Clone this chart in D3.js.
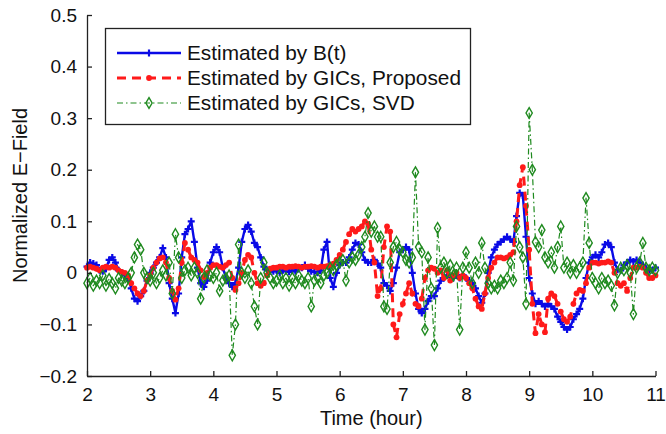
<!DOCTYPE html>
<html>
<head>
<meta charset="utf-8">
<script src="https://cdn.jsdelivr.net/npm/d3@7"></script>
<style>
  body { margin: 0; background: #fff; }
  text { font-family: "Liberation Sans", Arial, Helvetica, sans-serif; fill: #111; }
</style>
</head>
<body>
<div id="chart"></div>
<script>
// Values, one sample every 0.05 hour from 2 to 11
var timeStep = 0.05;
var timeHours = d3.range(0, 181).map(function(i) { return +(2 + i * timeStep).toFixed(2); });

// Estimated by B(t)
var bValues = [
  0.012, 0.02, 0.018, 0.015, 0.005, 0.003, 0.008, 0.025, 0.03, 0.02, 0.005, 0, -0.005, -0.01, -0.03, -0.05, -0.055, -0.045, -0.035, -0.015,
  0.0, 0.01, 0.02, 0.03, 0.048, 0.03, -0.02, -0.05, -0.078, -0.04, 0.03, 0.075, 0.085, 0.1, 0.06, 0.01, -0.02, -0.027, -0.015, 0.02,
  0.04, 0.05, 0.04, 0.01, -0.01, -0.02, -0.027, -0.02, 0.01, 0.06, 0.085, 0.093, 0.08, 0.058, 0.05, 0.03, 0.012, 0.005, 0.003, 0.003,
  0.005, 0.0, 0.005, 0.003, 0.002, 0.005, 0.003, 0.008, 0.01, 0.015, 0.008, 0.003, 0.002, 0.0, 0.005, 0.045, 0.06, -0.01, -0.027, 0.0,
  0.015, 0.02, 0.02, 0.03, 0.045, 0.058, 0.055, 0.04, 0.025, 0.02, 0.02, 0.025, 0.018, 0.01, -0.02, -0.025, -0.035, -0.02, 0.01, 0.04,
  0.045, 0.05, 0.045, 0.0, -0.04, -0.07, -0.078, -0.07, -0.055, -0.045, -0.045, -0.03, -0.015, -0.01, -0.005, -0.008, -0.01, -0.005, -0.01, -0.005,
  -0.01, -0.015, -0.02, -0.03, -0.045, -0.058, -0.04, 0.0, 0.03, 0.045, 0.055, 0.06, 0.065, 0.07, 0.065, 0.06, 0.11, 0.155, 0.15, 0.07,
  -0.01, -0.04, -0.06, -0.055, -0.06, -0.065, -0.06, -0.065, -0.07, -0.085, -0.095, -0.105, -0.11, -0.105, -0.09, -0.08, -0.07, -0.05, -0.01, 0.02,
  0.03, 0.035, 0.03, 0.04, 0.055, 0.058, 0.05, 0.02, 0.006, 0.005, 0.015, 0.02, 0.025, 0.022, 0.025, 0.02, 0.015, 0.008, 0.005, 0.005,
  0.01
];

// Estimated by GICs, Proposed
var proposedValues = [
  0.01, 0.012, 0.01, 0.008, 0.005, 0.01, 0.012, 0.01, 0.012, 0.01, 0.005, 0.002, 0.0, -0.005, -0.02, -0.03, -0.04, -0.045, -0.035, -0.015,
  -0.005, 0.01, 0.02, 0.028, 0.03, 0.02, -0.01, -0.035, -0.052, -0.03, 0.02, 0.058, 0.045, 0.03, 0.025, 0.02, 0.005, -0.008, 0.0, 0.01,
  0.015, 0.015, 0.012, 0.01, 0.015, 0.02, -0.01, -0.033, -0.02, 0.0, 0.025, 0.035, 0.03, 0.0, -0.02, -0.025, -0.02, -0.005, 0.008, 0.01,
  0.01, 0.012, 0.012, 0.01, 0.012, 0.012, 0.013, 0.012, 0.01, 0.012, 0.012, 0.013, 0.012, 0.01, 0.012, 0.012, 0.013, 0.015, 0.018, 0.025,
  0.035, 0.045, 0.06, 0.075, 0.085, 0.08, 0.085, 0.09, 0.1, 0.095, 0.045, 0.02, -0.045, -0.03, 0.05, 0.09, 0.08, -0.1, -0.125, -0.08,
  -0.06, -0.04, -0.02, -0.04, -0.06, -0.065, -0.05, -0.01, 0.005, 0.01, 0.008, 0.0, 0.005, -0.01, 0.005, -0.015, -0.005, 0.0, -0.01, -0.005,
  -0.01, -0.02, -0.03, -0.05, -0.065, -0.07, -0.04, -0.01, 0.01, 0.02, 0.03, 0.03, 0.028, 0.03, 0.035, 0.04, 0.1, 0.17, 0.205, 0.13,
  0.045, -0.06, -0.117, -0.08, -0.1, -0.115, -0.05, -0.04, -0.045, -0.06, -0.075, -0.09, -0.095, -0.085, -0.06, -0.04, -0.033, -0.035, -0.02, 0.01,
  0.02, 0.02, 0.018, 0.02, 0.02, 0.022, 0.02, 0.0, -0.02, -0.025, -0.02, -0.035, -0.01, 0.01, 0.01, 0.012, 0.01, 0.0, -0.01, -0.01,
  -0.005
];

// Estimated by GICs, SVD
var svdValues = [
  -0.02, -0.01, -0.025, -0.015, -0.02, -0.005, -0.025, -0.012, -0.02, -0.03, -0.01, -0.015, -0.02, -0.01, 0.0, 0.03, 0.055, 0.045, 0.0, -0.01,
  -0.015, 0.0, -0.02, -0.01, 0.005, -0.005, 0.02, -0.04, 0.075, 0.03, -0.01, 0.005, 0.01, -0.005, 0.01, 0.0, -0.05, -0.01, 0.005, -0.005,
  -0.01, 0.0, -0.035, -0.015, -0.01, -0.005, -0.16, -0.1, 0.055, 0.0, -0.01, 0.005, -0.02, -0.065, -0.1, -0.01, 0.02, 0.0, -0.01, -0.02,
  -0.015, -0.005, -0.02, -0.01, -0.025, -0.01, -0.02, -0.005, -0.015, -0.02, -0.01, -0.065, -0.015, -0.01, -0.02, -0.005, 0.0, 0.01, 0.005, 0.015,
  0.02, 0.025, -0.015, 0.02, 0.03, 0.025, 0.035, 0.05, 0.07, 0.116, 0.08, 0.09, 0.07, 0.07, -0.065, -0.07, 0.02, 0.05, 0.06, 0.045,
  0.04, 0.025, 0.02, 0.03, 0.195, 0.05, 0.04, -0.11, 0.03, -0.03, -0.14, 0.087, 0.01, 0.02, 0.0, 0.015, -0.005, 0.01, -0.11, 0.01,
  0.04, 0.01, -0.02, 0.02, 0.0, 0.058, 0.01, -0.02, -0.03, -0.025, -0.03, -0.015, -0.02, -0.01, 0.02, -0.015, 0.09, 0.05, 0.03, -0.06,
  0.31, 0.2, 0.06, 0.05, 0.083, 0.03, 0.02, 0.04, 0.01, 0.05, 0.09, 0.01, 0.02, 0.0, 0.015, 0.0, 0.01, 0.02, 0.145, 0.058,
  -0.01, -0.02, -0.03, -0.01, -0.02, -0.015, -0.025, -0.063, 0.0, 0.01, 0.005, 0.015, 0.0, -0.08, 0.01, 0.02, 0.058, 0.01, 0.005, 0.01,
  0.005
];

var xTicks = [2, 3, 4, 5, 6, 7, 8, 9, 10, 11];
var yTicks = [-0.2, -0.1, 0, 0.1, 0.2, 0.3, 0.4, 0.5];
var seriesNames = ["Estimated by B(t)", "Estimated by GICs, Proposed", "Estimated by GICs, SVD"];

// Canvas
var width = 666;
var height = 434;
var plotLeft = 87;
var plotRight = 655.5;
var plotTop = 15;
var plotBottom = 376;

var svg = d3.select("#chart")
  .append("svg")
  .attr("width", width)
  .attr("height", height);

var xScale = d3.scaleLinear().domain([2, 11]).range([plotLeft, plotRight]);
var yScale = d3.scaleLinear().domain([-0.2, 0.5]).range([plotBottom, plotTop]);

// Axes, ticks pointing inward like MATLAB
var xAxis = d3.axisBottom(xScale)
  .tickValues(xTicks)
  .tickSizeInner(-5)
  .tickSizeOuter(0)
  .tickPadding(12)
  .tickFormat(d3.format("d"));

var yAxis = d3.axisLeft(yScale)
  .tickValues(yTicks)
  .tickSizeInner(-5)
  .tickSizeOuter(0)
  .tickPadding(10)
  .tickFormat(function(d) {
    return d === 0 ? "0" : d3.format(".1f")(d).replace("-", "\u2212");
  });

// Series lines
var line = d3.line()
  .x(function(d) { return xScale(d[0]); })
  .y(function(d) { return yScale(d[1]); });

function pairs(values) {
  return values.map(function(v, i) { return [timeHours[i], v]; });
}

var series = [
  { name: seriesNames[0], values: bValues, color: "#0a0ae6", width: 2.4, dash: null, marker: "plus" },
  { name: seriesNames[1], values: proposedValues, color: "#ff1a1a", width: 3, dash: "9,6", marker: "dot" },
  { name: seriesNames[2], values: svdValues, color: "#1f8a1f", width: 1.2, dash: "6,3,1.5,3", marker: "diamond" }
];

var diamond = d3.symbol().type(d3.symbolDiamond).size(34);

function drawMarker(g, kind, color) {
  if (kind === "plus") {
    g.append("path")
      .attr("d", "M-3.5,0H3.5M0,-3.5V3.5")
      .attr("stroke", color)
      .attr("stroke-width", 2.2)
      .attr("fill", "none");
  } else if (kind === "dot") {
    g.append("circle")
      .attr("r", 2.9)
      .attr("fill", color);
  } else {
    g.append("path")
      .attr("d", diamond())
      .attr("stroke", color)
      .attr("stroke-width", 1.4)
      .attr("fill", "none");
  }
}

var plotArea = svg.append("g").attr("class", "plotArea");

series.forEach(function(s) {
  var data = pairs(s.values);

  plotArea.append("path")
    .datum(data)
    .attr("d", line)
    .attr("fill", "none")
    .attr("stroke", s.color)
    .attr("stroke-width", s.width)
    .attr("stroke-dasharray", s.dash)
    .attr("stroke-linejoin", "round");

  plotArea.selectAll(null)
    .data(data)
    .enter()
    .append("g")
    .attr("transform", function(d) {
      return "translate(" + xScale(d[0]) + "," + yScale(d[1]) + ")";
    })
    .each(function() {
      drawMarker(d3.select(this), s.marker, s.color);
    });
});

svg.append("g")
  .attr("class", "xAxis")
  .attr("transform", "translate(0," + plotBottom + ")")
  .call(xAxis);

svg.append("g")
  .attr("class", "yAxis")
  .attr("transform", "translate(" + plotLeft + ",0)")
  .call(yAxis);

svg.selectAll(".xAxis text, .yAxis text")
  .attr("font-size", 19)
  .attr("font-family", "'Liberation Sans', Arial, sans-serif")
  .attr("fill", "#111");
svg.selectAll(".domain, .tick line").attr("stroke", "#222").attr("stroke-width", 1.3);

// Axis titles
svg.append("text")
  .attr("x", (plotLeft + plotRight) / 2)
  .attr("y", 425)
  .attr("text-anchor", "middle")
  .attr("font-size", 20)
  .text("Time (hour)");

svg.append("text")
  .attr("transform", "translate(27," + (plotTop + plotBottom) / 2 + ")rotate(-90)")
  .attr("text-anchor", "middle")
  .attr("font-size", 20)
  .text("Normalized E\u2212Field");

// Legend
var legend = svg.append("g").attr("class", "legend");

legend.append("rect")
  .attr("x", 105.5)
  .attr("y", 28.5)
  .attr("width", 365)
  .attr("height", 96)
  .attr("fill", "#fff")
  .attr("stroke", "#222")
  .attr("stroke-width", 1.3);

series.forEach(function(s, i) {
  var rowY = 53 + i * 25;
  var row = legend.append("g");

  row.append("line")
    .attr("x1", 117)
    .attr("x2", 181)
    .attr("y1", rowY)
    .attr("y2", rowY)
    .attr("stroke", s.color)
    .attr("stroke-width", s.width)
    .attr("stroke-dasharray", s.dash);

  drawMarker(row.append("g").attr("transform", "translate(149," + rowY + ")"), s.marker, s.color);

  row.append("text")
    .attr("x", 187)
    .attr("y", rowY + 7)
    .attr("font-size", 20.8)
    .text(s.name);
});
</script>
</body>
</html>
